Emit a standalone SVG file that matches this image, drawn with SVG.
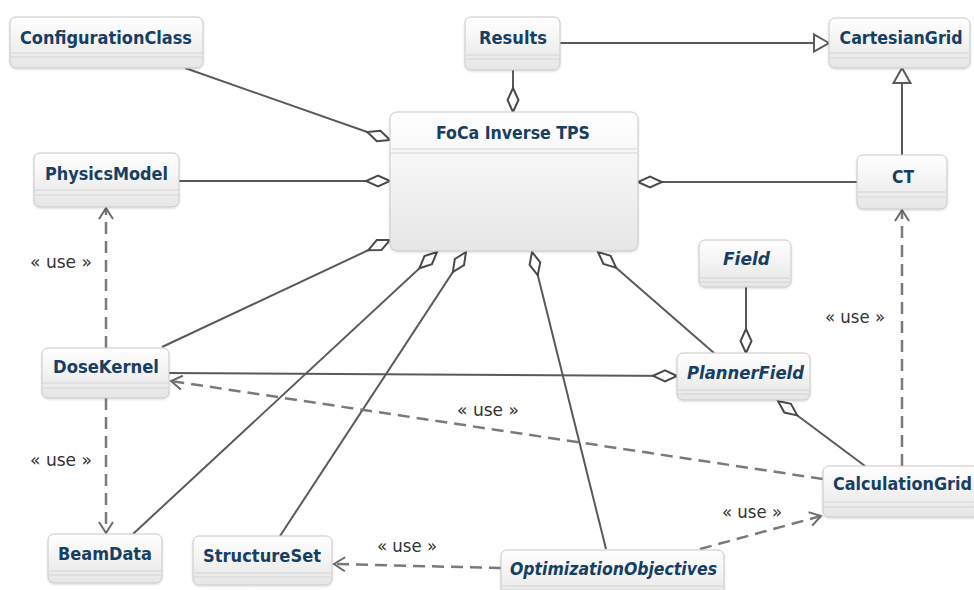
<svg xmlns="http://www.w3.org/2000/svg" width="974" height="590" viewBox="0 0 974 590">
  <style>
    .box { fill: url(#boxFill); stroke: #c8c8c8; stroke-width: 1; filter: url(#shadow); }
    .sep { stroke: #d4d4d4; stroke-width: 1.2; fill: none; }
    .name { font-family: "DejaVu Sans Condensed", "DejaVu Sans", sans-serif; font-weight: bold; font-size: 18px; fill: #173f63; text-anchor: middle; }
    .abstract { font-style: italic; }
    .assoc { stroke: #5a5a5a; stroke-width: 2; fill: none; }
    .dep { stroke: #7a7a7a; stroke-width: 2.5; fill: none; stroke-dasharray: 12 7; }
    .stereo { font-family: "DejaVu Sans", sans-serif; font-size: 17px; fill: #333; text-anchor: middle; }
  </style>
  <defs>
    <linearGradient id="boxFill" x1="0" y1="0" x2="0" y2="1">
      <stop offset="0" stop-color="#ffffff"/>
      <stop offset="1" stop-color="#e6e6e6"/>
    </linearGradient>
    <filter id="shadow" x="-10%" y="-10%" width="120%" height="130%">
      <feDropShadow dx="0" dy="1" stdDeviation="1" flood-color="#000" flood-opacity="0.15"/>
    </filter>
    <!-- hollow diamond: aggregation end -->
    <marker id="diamond" markerUnits="userSpaceOnUse" markerWidth="30" markerHeight="16" viewBox="-26 -8 28 16" refX="0" refY="0" orient="auto" overflow="visible">
      <path d="M0,0 L-12,-5.5 L-24,0 L-12,5.5 Z" fill="#fff" stroke="#4a4a4a" stroke-width="2"/>
    </marker>
    <!-- hollow triangle: generalisation end -->
    <marker id="triangle" markerUnits="userSpaceOnUse" markerWidth="20" markerHeight="20" viewBox="-18 -10 20 20" refX="0" refY="0" orient="auto" overflow="visible">
      <path d="M0,0 L-15,-8.5 L-15,8.5 Z" fill="#fff" stroke="#5a5a5a" stroke-width="2"/>
    </marker>
    <!-- open arrow: dependency end -->
    <marker id="open" markerUnits="userSpaceOnUse" markerWidth="16" markerHeight="16" viewBox="-14 -8 16 16" refX="0" refY="0" orient="auto" overflow="visible">
      <path d="M-11,-7 L0,0 L-11,7" fill="none" stroke="#6a6a6a" stroke-width="2"/>
    </marker>
  </defs>

  <rect width="974" height="590" fill="#ffffff"/>

  <g id="connectors">
    <!-- aggregations into the main class -->
    <line class="assoc" x1="185" y1="68" x2="390" y2="140" marker-end="url(#diamond)"/>
    <line class="assoc" x1="513" y1="70" x2="513" y2="112" marker-end="url(#diamond)"/>
    <line class="assoc" x1="179" y1="181" x2="390" y2="181" marker-end="url(#diamond)"/>
    <line class="assoc" x1="857" y1="182" x2="638" y2="182" marker-end="url(#diamond)"/>
    <line class="assoc" x1="162" y1="347" x2="390" y2="240" marker-end="url(#diamond)"/>
    <line class="assoc" x1="133" y1="534" x2="437" y2="252" marker-end="url(#diamond)"/>
    <line class="assoc" x1="280" y1="536" x2="466" y2="252" marker-end="url(#diamond)"/>
    <line class="assoc" x1="606" y1="549" x2="532" y2="252" marker-end="url(#diamond)"/>
    <line class="assoc" x1="714" y1="353" x2="598" y2="252" marker-end="url(#diamond)"/>
    <!-- aggregations into PlannerField -->
    <line class="assoc" x1="746" y1="287" x2="746" y2="353" marker-end="url(#diamond)"/>
    <line class="assoc" x1="169" y1="373" x2="677" y2="376" marker-end="url(#diamond)"/>
    <line class="assoc" x1="865" y1="466" x2="778" y2="401" marker-end="url(#diamond)"/>
    <!-- generalisations -->
    <line class="assoc" x1="560" y1="43" x2="829" y2="43" marker-end="url(#triangle)"/>
    <line class="assoc" x1="902" y1="155" x2="902" y2="68" marker-end="url(#triangle)"/>
    <!-- dependencies -->
    <line class="dep" x1="106" y1="348" x2="106" y2="208" marker-end="url(#open)"/>
    <line class="dep" x1="106" y1="398" x2="106" y2="533" marker-end="url(#open)"/>
    <line class="dep" x1="902" y1="466" x2="902" y2="210" marker-end="url(#open)"/>
    <line class="dep" x1="823" y1="479" x2="171" y2="381" marker-end="url(#open)"/>
    <line class="dep" x1="501" y1="568" x2="334" y2="564" marker-end="url(#open)"/>
    <line class="dep" x1="700" y1="549" x2="821" y2="516" marker-end="url(#open)"/>
    <text class="stereo" x="61" y="268" textLength="62" lengthAdjust="spacingAndGlyphs">« use »</text>
    <text class="stereo" x="61" y="466" textLength="62" lengthAdjust="spacingAndGlyphs">« use »</text>
    <text class="stereo" x="855" y="323" textLength="60" lengthAdjust="spacingAndGlyphs">« use »</text>
    <text class="stereo" x="488" y="416" textLength="62" lengthAdjust="spacingAndGlyphs">« use »</text>
    <text class="stereo" x="407" y="552" textLength="60" lengthAdjust="spacingAndGlyphs">« use »</text>
    <text class="stereo" x="752" y="518" textLength="60" lengthAdjust="spacingAndGlyphs">« use »</text>
  </g>

  <g id="ConfigurationClass">
    <rect class="box" x="10" y="17" width="193" height="51" rx="6"/>
    <line class="sep" x1="11" y1="53" x2="202" y2="53"/>
    <line class="sep" x1="11" y1="57" x2="202" y2="57"/>
    <text class="name" x="106" y="44" textLength="172" lengthAdjust="spacingAndGlyphs">ConfigurationClass</text>
  </g>

  <g id="Results">
    <rect class="box" x="465" y="17" width="95" height="53" rx="6"/>
    <line class="sep" x1="466" y1="55" x2="559" y2="55"/>
    <line class="sep" x1="466" y1="59" x2="559" y2="59"/>
    <text class="name" x="513" y="44" textLength="68" lengthAdjust="spacingAndGlyphs">Results</text>
  </g>

  <g id="CartesianGrid">
    <rect class="box" x="829" y="18" width="141" height="50" rx="6"/>
    <line class="sep" x1="830" y1="53" x2="969" y2="53"/>
    <line class="sep" x1="830" y1="58" x2="969" y2="58"/>
    <text class="name" x="901" y="44" textLength="123" lengthAdjust="spacingAndGlyphs">CartesianGrid</text>
  </g>

  <g id="FoCaInverseTPS">
    <rect class="box" x="390" y="112" width="248" height="139" rx="7"/>
    <line class="sep" x1="391" y1="149" x2="637" y2="149"/>
    <line class="sep" x1="391" y1="153" x2="637" y2="153"/>
    <text class="name" x="513" y="139" textLength="154" lengthAdjust="spacingAndGlyphs">FoCa Inverse TPS</text>
  </g>

  <g id="PhysicsModel">
    <rect class="box" x="34" y="153" width="145" height="54" rx="6"/>
    <line class="sep" x1="35" y1="190" x2="178" y2="190"/>
    <line class="sep" x1="35" y1="195" x2="178" y2="195"/>
    <text class="name" x="106.5" y="180" textLength="123" lengthAdjust="spacingAndGlyphs">PhysicsModel</text>
  </g>

  <g id="CT">
    <rect class="box" x="857" y="155" width="90" height="54" rx="6"/>
    <line class="sep" x1="858" y1="192" x2="946" y2="192"/>
    <line class="sep" x1="858" y1="197" x2="946" y2="197"/>
    <text class="name" x="903" y="183" textLength="22" lengthAdjust="spacingAndGlyphs">CT</text>
  </g>

  <g id="Field">
    <rect class="box" x="699" y="240" width="92" height="47" rx="6"/>
    <line class="sep" x1="700" y1="278" x2="790" y2="278"/>
    <line class="sep" x1="700" y1="282" x2="790" y2="282"/>
    <text class="name abstract" x="746.5" y="265" textLength="47" lengthAdjust="spacingAndGlyphs">Field</text>
  </g>

  <g id="DoseKernel">
    <rect class="box" x="42" y="348" width="127" height="50" rx="6"/>
    <line class="sep" x1="43" y1="383" x2="168" y2="383"/>
    <line class="sep" x1="43" y1="388" x2="168" y2="388"/>
    <text class="name" x="106" y="373" textLength="106" lengthAdjust="spacingAndGlyphs">DoseKernel</text>
  </g>

  <g id="PlannerField">
    <rect class="box" x="677" y="353" width="133" height="47" rx="6"/>
    <line class="sep" x1="678" y1="390" x2="809" y2="390"/>
    <line class="sep" x1="678" y1="394" x2="809" y2="394"/>
    <text class="name abstract" x="745.5" y="379" textLength="117" lengthAdjust="spacingAndGlyphs">PlannerField</text>
  </g>

  <g id="CalculationGrid">
    <rect class="box" x="823" y="466" width="160" height="51" rx="6"/>
    <line class="sep" x1="824" y1="502" x2="974" y2="502"/>
    <line class="sep" x1="824" y1="507" x2="974" y2="507"/>
    <text class="name" x="902.5" y="490" textLength="139" lengthAdjust="spacingAndGlyphs">CalculationGrid</text>
  </g>

  <g id="BeamData">
    <rect class="box" x="48" y="534" width="114" height="49" rx="6"/>
    <line class="sep" x1="49" y1="571" x2="161" y2="571"/>
    <line class="sep" x1="49" y1="575" x2="161" y2="575"/>
    <text class="name" x="105" y="560" textLength="94" lengthAdjust="spacingAndGlyphs">BeamData</text>
  </g>

  <g id="StructureSet">
    <rect class="box" x="193" y="536" width="139" height="49" rx="6"/>
    <line class="sep" x1="194" y1="573" x2="331" y2="573"/>
    <line class="sep" x1="194" y1="577" x2="331" y2="577"/>
    <text class="name" x="262" y="562" textLength="118" lengthAdjust="spacingAndGlyphs">StructureSet</text>
  </g>

  <g id="OptimizationObjectives">
    <rect class="box" x="501" y="550" width="223" height="50" rx="6"/>
    <line class="sep" x1="502" y1="586" x2="723" y2="586"/>
    <line class="sep" x1="502" y1="590" x2="723" y2="590"/>
    <text class="name abstract" x="613.5" y="575" textLength="207" lengthAdjust="spacingAndGlyphs">OptimizationObjectives</text>
  </g>
</svg>
